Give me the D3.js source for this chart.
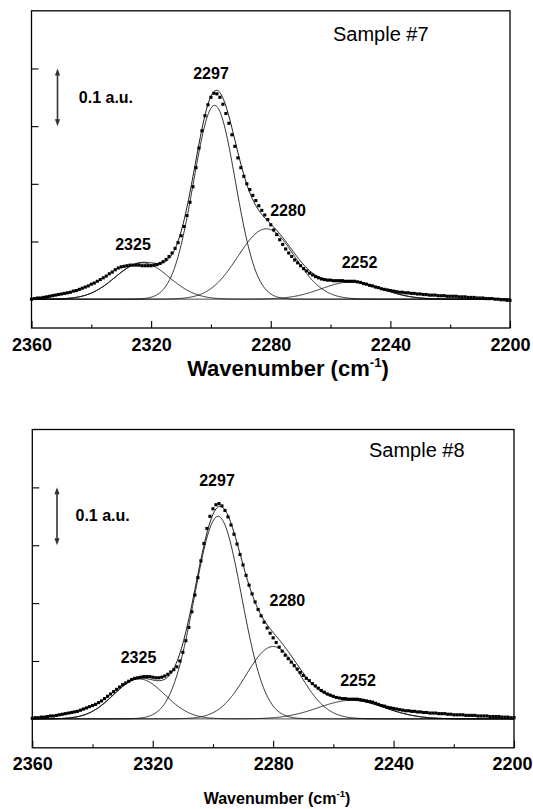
<!DOCTYPE html>
<html><head><meta charset="utf-8">
<script src="https://cdn.jsdelivr.net/npm/d3@7"></script>
<style>
body{margin:0;background:#fff}
svg{display:block}
text{font-family:"Liberation Sans",Arial,Helvetica,sans-serif;fill:#000}
</style>
</head><body>
<svg id="chart" width="533" height="809"></svg>
<script>
// ---------------- data ----------------
const wnStart = 2360;            // first data point (cm-1), spacing 1 cm-1 downward
const sample7 = [
 0.000,0.001,0.002,0.002,0.003,0.004,0.005,0.006,0.007,0.008,
 0.009,0.010,0.011,0.012,0.014,0.015,0.017,0.019,0.021,0.023,
 0.026,0.028,0.031,0.034,0.037,0.040,0.044,0.047,0.051,0.054,
 0.056,0.057,0.058,0.059,0.059,0.059,0.059,0.058,0.058,0.058,
 0.058,0.059,0.060,0.062,0.065,0.069,0.074,0.080,0.088,0.098,
 0.110,0.126,0.145,0.168,0.195,0.228,0.262,0.292,0.318,0.337,
 0.350,0.357,0.356,0.350,0.338,0.322,0.305,0.285,0.265,0.245,
 0.228,0.213,0.200,0.190,0.180,0.171,0.162,0.154,0.146,0.138,
 0.129,0.120,0.112,0.103,0.095,0.087,0.080,0.074,0.068,0.063,
 0.058,0.053,0.049,0.045,0.042,0.039,0.037,0.035,0.034,0.033,
 0.033,0.032,0.032,0.032,0.032,0.031,0.031,0.031,0.031,0.030,
 0.029,0.027,0.026,0.024,0.023,0.021,0.020,0.018,0.017,0.016,
 0.015,0.014,0.013,0.012,0.012,0.011,0.011,0.010,0.010,0.009,
 0.009,0.008,0.008,0.007,0.007,0.007,0.006,0.006,0.006,0.005,
 0.005,0.005,0.005,0.004,0.004,0.004,0.003,0.003,0.003,0.002,
 0.002,0.002,0.001,0.001,0.001,0.000,0.000,-0.001,-0.001,-0.002,
 -0.002];
const sample8 = [
 0.001,0.002,0.002,0.003,0.003,0.004,0.005,0.005,0.006,0.007,
 0.008,0.009,0.010,0.011,0.012,0.013,0.015,0.017,0.019,0.021,
 0.023,0.025,0.028,0.031,0.035,0.039,0.043,0.047,0.051,0.055,
 0.059,0.062,0.065,0.068,0.070,0.071,0.072,0.073,0.073,0.073,
 0.072,0.071,0.071,0.072,0.074,0.077,0.081,0.085,0.090,0.100,
 0.115,0.135,0.158,0.185,0.214,0.244,0.273,0.303,0.329,0.350,
 0.363,0.370,0.372,0.368,0.360,0.349,0.335,0.319,0.302,0.284,
 0.266,0.248,0.231,0.216,0.202,0.189,0.178,0.167,0.157,0.148,
 0.140,0.132,0.124,0.117,0.110,0.104,0.098,0.092,0.086,0.080,
 0.075,0.070,0.066,0.061,0.057,0.053,0.049,0.046,0.043,0.041,
 0.039,0.037,0.036,0.035,0.035,0.034,0.034,0.034,0.034,0.033,
 0.032,0.031,0.030,0.029,0.027,0.025,0.023,0.022,0.020,0.019,
 0.018,0.017,0.016,0.015,0.014,0.014,0.013,0.013,0.012,0.012,
 0.011,0.011,0.010,0.010,0.010,0.009,0.009,0.009,0.008,0.008,
 0.007,0.007,0.007,0.007,0.006,0.006,0.006,0.006,0.005,0.005,
 0.005,0.005,0.004,0.004,0.004,0.004,0.003,0.003,0.003,0.002,
 0.002];

// fitted Gaussian bands
const bandLabels = ["2325", "2297", "2280", "2252"];
const s7Centers = [2323.0, 2298.8, 2281.5, 2253.0];
const s7Heights = [0.063, 0.336, 0.122, 0.030];
const s7Sigmas  = [9.0, 7.0, 9.5, 10.0];
const s8Centers = [2324.5, 2298.3, 2280.0, 2254.0];
const s8Heights = [0.069, 0.350, 0.125, 0.032];
const s8Sigmas  = [8.5, 7.8, 9.0, 11.0];

const xMajorTicks = [2360, 2320, 2280, 2240, 2200];
const xMinorTicks = [2340, 2300, 2260, 2220];
const yTicks = [0.1, 0.2, 0.3, 0.4];
const panelTitles = ["Sample #7", "Sample #8"];
const scaleBarLabel = "0.1 a.u.";
const scaleBar = [0.3, 0.4];
const axisTitle = "Wavenumber (cm";

// ---------------- layout ----------------
const svg = d3.select("#chart");
svg.append("rect").attr("width", 533).attr("height", 809).attr("fill", "#fff");

const panels = [
  { data: sample7, centers: s7Centers, heights: s7Heights, sigmas: s7Sigmas, title: panelTitles[0],
    xr: [31.5, 510], yr: [328, 10.8], titlePos: [333, 40.7],
    barX: 57.5, barLabelPos: [78.8, 102.7],
    labelPos: [[133, 250], [211, 79], [288, 216], [359.5, 267.7]],
    tickPad: 10, tickFont: 18, axTitlePos: [288, 376], axTitleFont: 22 },
  { data: sample8, centers: s8Centers, heights: s8Heights, sigmas: s8Sigmas, title: panelTitles[1],
    xr: [32.3, 514], yr: [747.8, 429.5], titlePos: [369, 457.3],
    barX: 57, barLabelPos: [75.5, 520.7],
    labelPos: [[138.5, 663.3], [217, 486], [287.3, 606], [358, 686]],
    tickPad: 9, tickFont: 18, axTitlePos: [277, 804], axTitleFont: 16 }
];

panels.forEach(p => {
  const x = d3.scaleLinear().domain([2360, 2200]).range(p.xr);
  const y = d3.scaleLinear().domain([-0.05, 0.5]).range(p.yr);
  const g = svg.append("g");
  const pts = p.data.map((v, i) => ({ wn: wnStart - i, v }));

  // fine grid for fitted curves
  const grid = d3.range(2360, 2199.99, -0.25);
  const gauss = (k, w) => p.heights[k] * Math.exp(-Math.pow(w - p.centers[k], 2) / (2 * p.sigmas[k] * p.sigmas[k]));
  const line = d3.line().x(d => x(d[0])).y(d => y(d[1]));

  // component bands
  p.centers.forEach((c, k) => {
    g.append("path").attr("d", line(grid.map(w => [w, gauss(k, w)])))
      .attr("fill", "none").attr("stroke", "#000").attr("stroke-width", 0.8);
  });
  // cumulative fit
  g.append("path").attr("d", line(grid.map(w => [w, d3.sum(p.centers, (c, k) => gauss(k, w))])))
    .attr("fill", "none").attr("stroke", "#000").attr("stroke-width", 0.9);

  // experimental points
  const s = 3.1;
  g.selectAll("rect.pt").data(pts).enter().append("rect").attr("class", "pt")
    .attr("x", d => x(d.wn) - s / 2).attr("y", d => y(d.v) - s / 2)
    .attr("width", s).attr("height", s).attr("fill", "#000");

  // axes (ticks inward)
  const [x0, x1] = p.xr, [yb, yt] = p.yr;
  const ax = d3.axisBottom(x).tickValues(xMajorTicks).tickSize(-7).tickPadding(p.tickPad).tickFormat(d3.format("d"));
  const axG = g.append("g").attr("transform", `translate(0,${yb})`).call(ax);
  axG.select(".domain").remove();
  axG.selectAll("line").attr("stroke", "#000").attr("stroke-width", 1.1);
  axG.selectAll("text").attr("font-size", p.tickFont).attr("font-weight", "bold")
    .attr("font-family", "'Liberation Sans',Arial,sans-serif").attr("fill", "#000");
  // keep the last label inside the page
  axG.selectAll("text").filter(d => d === 2200)
    .attr("text-anchor", "end").attr("x", Math.min(0, 532 - x1 - 20) + 20);
  const axm = d3.axisBottom(x).tickValues(xMinorTicks).tickSize(-3.5).tickFormat("");
  const amG = g.append("g").attr("transform", `translate(0,${yb})`).call(axm);
  amG.select(".domain").remove();
  amG.selectAll("line").attr("stroke", "#000").attr("stroke-width", 1.1);

  const ay = d3.axisLeft(y).tickValues(yTicks).tickSize(-7).tickFormat("");
  const ayG = g.append("g").attr("transform", `translate(${x0},0)`).call(ay);
  ayG.select(".domain").remove();
  ayG.selectAll("line").attr("stroke", "#000").attr("stroke-width", 1.1);

  // frame
  g.append("rect").attr("x", x0).attr("y", yt).attr("width", x1 - x0).attr("height", yb - yt)
    .attr("fill", "none").attr("stroke", "#000").attr("stroke-width", 1.3);

  // panel title
  g.append("text").attr("x", p.titlePos[0]).attr("y", p.titlePos[1])
    .attr("font-size", 20).text(p.title);

  // band labels
  bandLabels.forEach((t, k) => {
    g.append("text").attr("x", p.labelPos[k][0]).attr("y", p.labelPos[k][1])
      .attr("text-anchor", "middle").attr("font-size", 16).attr("font-weight", "bold").text(t);
  });

  // scale bar 0.1 a.u.
  const ya = y(scaleBar[1]), yb2 = y(scaleBar[0]), bx = p.barX;
  g.append("line").attr("x1", bx).attr("x2", bx).attr("y1", ya + 4).attr("y2", yb2 - 4)
    .attr("stroke", "#333").attr("stroke-width", 1.6);
  g.append("path").attr("d", `M${bx - 2.6},${ya + 7}L${bx},${ya}L${bx + 2.6},${ya + 7}Z`).attr("fill", "#333");
  g.append("path").attr("d", `M${bx - 2.6},${yb2 - 7}L${bx},${yb2}L${bx + 2.6},${yb2 - 7}Z`).attr("fill", "#333");
  g.append("text").attr("x", p.barLabelPos[0]).attr("y", p.barLabelPos[1])
    .attr("font-size", 16).attr("font-weight", "bold").text(scaleBarLabel);

  // axis title
  const tt = g.append("text").attr("x", p.axTitlePos[0]).attr("y", p.axTitlePos[1])
    .attr("text-anchor", "middle").attr("font-size", p.axTitleFont).attr("font-weight", "bold");
  tt.append("tspan").text(axisTitle);
  tt.append("tspan").attr("font-size", p.axTitleFont * 0.6).attr("dy", -p.axTitleFont * 0.42).text("-1");
  tt.append("tspan").attr("dy", p.axTitleFont * 0.42).text(")");
});
</script>
</body></html>
